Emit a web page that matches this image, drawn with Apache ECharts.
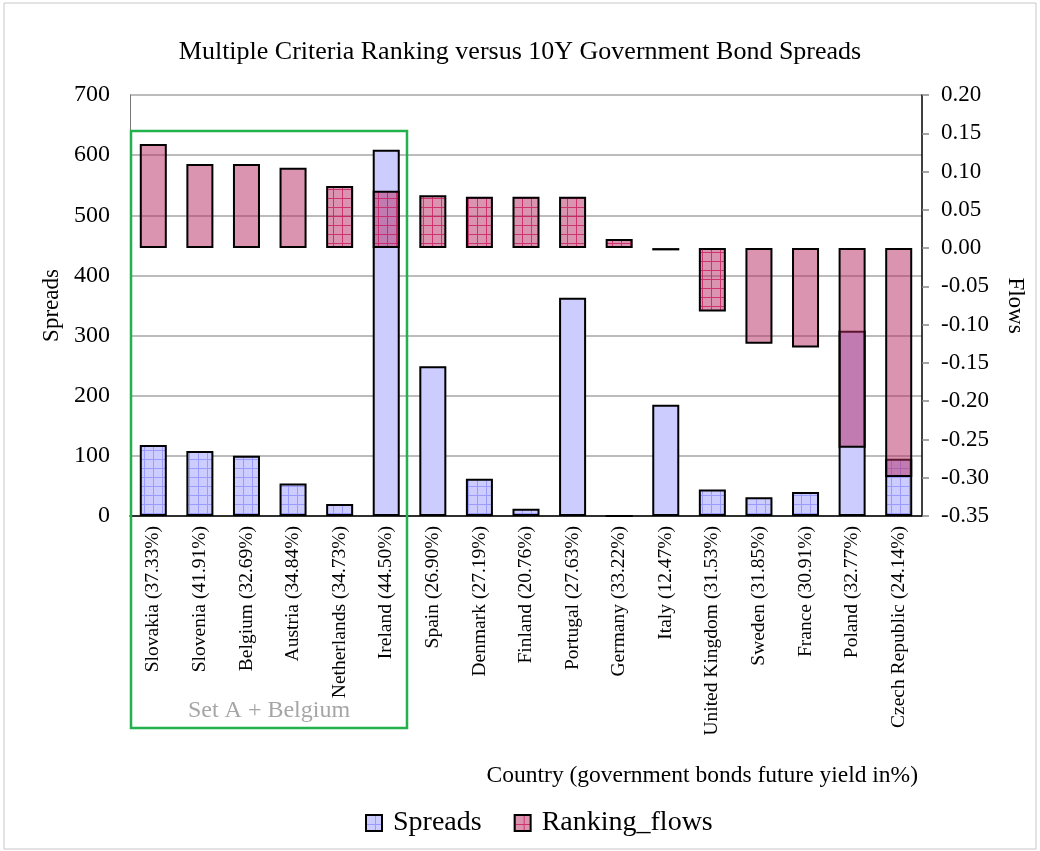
<!DOCTYPE html>
<html>
<head>
<meta charset="utf-8">
<script src="https://cdn.jsdelivr.net/npm/echarts@6/dist/echarts.min.js"></script>
<style>html,body{margin:0;padding:0;background:#fff;}#c{width:1040px;height:851px;}</style>
</head>
<body>
<div id="c"></div>
<script>
// ---- data ----
const categories = ['Slovakia (37.33%)','Slovenia (41.91%)','Belgium (32.69%)','Austria (34.84%)','Netherlands (34.73%)','Ireland (44.50%)','Spain (26.90%)','Denmark (27.19%)','Finland (20.76%)','Portugal (27.63%)','Germany (33.22%)','Italy (12.47%)','United Kingdom (31.53%)','Sweden (31.85%)','France (30.91%)','Poland (32.77%)','Czech Republic (24.14%)'];
const spreads = [118,108,100,54,20,609,249,62,12,363,0,185,44,31,40,308,95];
const rankingFlows = [0.136,0.110,0.110,0.105,0.081,0.075,0.069,0.067,0.067,0.067,0.012,-0.003,-0.083,-0.125,-0.130,-0.261,-0.299];
const spreadsHatched = [1,1,1,1,1,0,0,1,1,0,0,0,1,1,1,0,1];
const flowsHatched   = [0,0,0,0,1,1,1,1,1,1,1,1,1,0,0,0,0];
const leftTicks = {min:0, max:700, interval:100};
const rightTicks = {min:-0.35, max:0.20, interval:0.05};

// ---- styling helpers ----
const FONT = "'Liberation Serif', 'Times New Roman', serif";
const BLUE = '#ccccff';
const PINK = 'rgba(183,41,97,0.5)';
function makePattern(bg, line) {
  const c = document.createElement('canvas');
  c.width = 9; c.height = 9;
  const g = c.getContext('2d');
  g.fillStyle = bg; g.fillRect(0,0,9,9);
  g.fillStyle = line; g.fillRect(0,0,9,1); g.fillRect(0,1,1,8);
  return {image: c, repeat: 'repeat'};
}
const blueHatch = makePattern(BLUE, '#9a9aff');
const pinkHatch = makePattern(PINK, 'rgba(200,20,90,0.75)');

const spreadsData = spreads.map((v,i)=>({value:v, itemStyle:{color: spreadsHatched[i] ? blueHatch : BLUE}}));
const flowsData = rankingFlows.map((v,i)=>({value:v, itemStyle:{color: flowsHatched[i] ? pinkHatch : PINK}}));

const chart = echarts.init(document.getElementById('c'), null, {renderer:'canvas'});
chart.setOption({
  backgroundColor:'#fff',
  animation:false,
  textStyle:{fontFamily:FONT, color:'#000'},
  title:[
    {text:'Multiple Criteria Ranking versus 10Y Government Bond Spreads', left:'center', top:34,
     textStyle:{fontFamily:FONT, fontSize:26, fontWeight:'normal', color:'#000'}},
    {text:'Country (government bonds future yield in%)', right:117, top:759,
     textStyle:{fontFamily:FONT, fontSize:23.5, fontWeight:'normal', color:'#000'}}
  ],
  legend:{
    bottom:9, left:360, itemWidth:16, itemHeight:16, itemGap:32,
    textStyle:{fontFamily:FONT, fontSize:28, color:'#000', padding:[0,0,0,6]},
    data:[
      {name:'Spreads', icon:'rect', itemStyle:{color:blueHatch, borderColor:'#000', borderWidth:2}},
      {name:'Ranking_flows', icon:'rect', itemStyle:{color:pinkHatch, borderColor:'#000', borderWidth:2}}
    ]
  },
  grid:{left:130, right:118, top:95, bottom:335, containLabel:false},
  xAxis:{
    type:'category', data:categories,
    axisLine:{lineStyle:{color:'#000', width:1.5}},
    axisTick:{show:false},
    axisLabel:{rotate:90, interval:0, fontFamily:FONT, fontSize:19.5, color:'#000', margin:10}
  },
  yAxis:[
    {type:'value', min:leftTicks.min, max:leftTicks.max, interval:leftTicks.interval,
     name:'Spreads', nameLocation:'middle', nameGap:64,
     nameTextStyle:{fontFamily:FONT, fontSize:23, color:'#000'},
     axisLine:{show:true, lineStyle:{color:'#777', width:1}},
     axisTick:{show:false},
     axisLabel:{fontFamily:FONT, fontSize:24, color:'#000', margin:20},
     splitLine:{lineStyle:{color:'#a6a6a6', width:1.5}}},
    {type:'value', position:'right', min:rightTicks.min, max:rightTicks.max, interval:rightTicks.interval,
     name:'Flows', nameLocation:'middle', nameGap:82, nameRotate:-90,
     nameTextStyle:{fontFamily:FONT, fontSize:23, color:'#000'},
     axisLine:{show:true, lineStyle:{color:'#000', width:1.5}},
     axisTick:{show:true, length:7, lineStyle:{color:'#888', width:1.5}},
     axisLabel:{fontFamily:FONT, fontSize:23, color:'#000', margin:19, formatter:v=>v.toFixed(2)},
     splitLine:{show:false}}
  ],
  series:[
    {name:'Spreads', type:'bar', yAxisIndex:0, data:spreadsData, barWidth:'58%', barGap:'-100%',
     itemStyle:{color:blueHatch, borderColor:'#000', borderWidth:2}},
    {name:'Ranking_flows', type:'bar', yAxisIndex:1, data:flowsData, barWidth:'58%', barGap:'-100%',
     itemStyle:{color:pinkHatch, borderColor:'#000', borderWidth:2}}
  ],
  graphic:[
    {type:'rect', shape:{x:4, y:3, width:1032, height:846}, style:{fill:null, stroke:'#c8c8c8', lineWidth:1}, silent:true, z:-1},
    {type:'rect', shape:{x:131, y:131, width:276, height:597}, style:{fill:null, stroke:'#22b14c', lineWidth:2.5}, silent:true, z:10},
    {type:'text', x:269, y:711, style:{text:'Set A + Belgium', font:"24px 'Liberation Serif', serif", fill:'#a6a6a6', textAlign:'center', textVerticalAlign:'middle'}, silent:true, z:10}
  ]
});
</script>
</body>
</html>
